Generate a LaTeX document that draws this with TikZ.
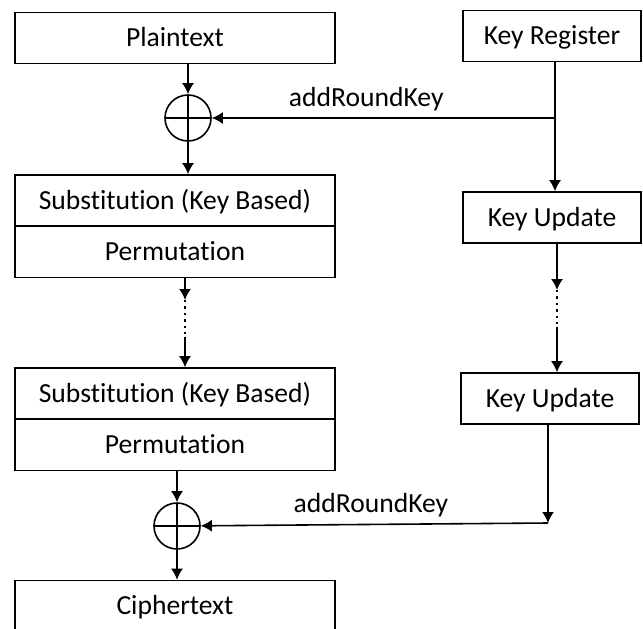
\documentclass[tikz,border=0pt]{standalone}
\usepackage{fontspec}
\setmainfont{Carlito}[Ligatures=NoCommon]
\usetikzlibrary{arrows.meta}

\begin{document}
\begin{tikzpicture}[x=0.5pt, y=-0.5pt, line width=0.8pt, >={Latex[length=5.5pt,width=6pt]},
        font=\fontsize{13.8}{16}\selectfont]
        % Setup the styles for the blocks
        \tikzset{box/.style={draw, rectangle, minimum width=160pt, minimum height=25.5pt, inner sep=0pt,
                             text height=1.0em, text depth=0.12em},
                 keybox/.style={box, minimum width=89pt},
                 xor/.style={draw, circle, minimum size=23pt, inner sep=0pt,
                             path picture={\draw (path picture bounding box.north) -- (path picture bounding box.south)
                                                 (path picture bounding box.west) -- (path picture bounding box.east);}}}

        \useasboundingbox (0,0) rectangle (643,628);

        % Left column
        \node[box] at (175, 38)    (plain)  {Plaintext};
        \node[xor] at (188, 118)   (xor1)   {};
        \node[box] at (175, 200.5) (sub1)   {Substitution (Key Based)};
        \node[box] at (175, 252)   (perm1)  {Permutation};
        \node[box] at (175, 393.5) (sub2)   {Substitution (Key Based)};
        \node[box] at (175, 445)   (perm2)  {Permutation};
        \node[xor] at (177, 526)   (xor2)   {};
        \node[box] at (175, 606)   (cipher) {Ciphertext};

        % Right column
        \node[keybox] at (552, 36)    (keyreg)  {Key Register};
        \node[keybox] at (552, 217.5) (keyupd1) {Key Update};
        \node[keybox] at (550, 398.5) (keyupd2) {Key Update};

        % Helper points for the taps and the dotted gaps
        \coordinate (tap1) at (555, 118);
        \coordinate (tap2) at (548, 523);
        \coordinate (gapla) at (185, 300);
        \coordinate (gaplb) at (185, 337);
        \coordinate (gapra) at (557, 290);
        \coordinate (gaprb) at (557, 327);

        % Data path
        \draw[->] (plain.south -| xor1) -- (xor1);
        \draw[->] (xor1) -- (sub1.north -| xor1);
        \draw[->] (perm1.south -| gapla) -- (gapla);
        \draw[dotted, line width=1.2pt] (gapla) -- (gaplb);
        \draw[->] (gaplb) -- (sub2.north -| gaplb);
        \draw[->] (perm2.south -| xor2) -- (xor2);
        \draw[->] (xor2) -- (cipher.north -| xor2);

        % Key path
        \draw[->] (keyreg.south -| tap1) -- (keyupd1.north -| tap1);
        \draw[->] (tap1) -- node[above, pos=0.55] {addRoundKey} (xor1);
        \draw[->] (keyupd1.south -| gapra) -- (gapra);
        \draw[dotted, line width=1.2pt] (gapra) -- (gaprb);
        \draw[->] (gaprb) -- (keyupd2.north -| gaprb);
        \draw[->] (keyupd2.south -| tap2) -- (tap2);
        \draw[->] (tap2) -- node[above, pos=0.51] {addRoundKey} (xor2);
\end{tikzpicture}
\end{document}
